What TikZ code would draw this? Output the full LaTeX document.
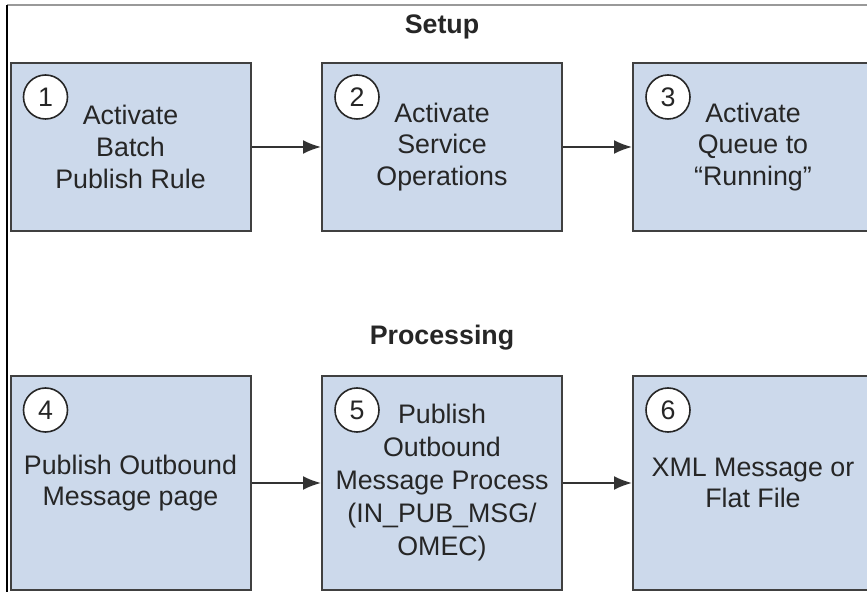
\documentclass[tikz,border=0pt]{standalone}
\usepackage{fontspec}
\setmainfont{Liberation Sans}
\usetikzlibrary{arrows.meta,calc}
\definecolor{boxfill}{HTML}{CCD9EB}
\definecolor{boxline}{HTML}{404040}
\definecolor{arrowline}{HTML}{333333}
\begin{document}
\begin{tikzpicture}
[x=0.5pt,y=-0.5pt,
 every node/.style={font=\fontsize{13.4}{15.8}\selectfont, text=black!85},
 stagebox/.style={rectangle, draw=boxline, line width=1pt, fill=boxfill, minimum width=120pt, align=center, inner sep=0pt},
 numcirc/.style={circle, draw=black!85, line width=0.8pt, fill=white, minimum size=22pt, inner sep=0pt},
 flow/.style={draw=arrowline, line width=1pt, -{Latex[length=9pt,width=7pt]}},
 heading/.style={font=\bfseries\fontsize{13.4}{15}\selectfont}]
\useasboundingbox (0,0) rectangle (867,592);
% frame
\draw[black!40, line width=1pt] (7,5) -- (867,5);
\draw[black, line width=1pt] (7,5) -- (7,592);
% headings
\node[heading] (setup) at (442,27) {Setup};
\node[heading] (processing) at (442,338) {Processing};
% setup row
\node[stagebox, minimum height=84pt] (b1) at (130.5,147) {Activate\\Batch\\Publish Rule};
\node[stagebox, minimum height=84pt] (b2) at (442,147) {Activate\\Service\\Operations};
\node[stagebox, minimum height=84pt] (b3) at (753,147) {Activate\\Queue to\\“Running”};
% processing row
\node[stagebox, minimum height=107pt] (b4) at (130.5,483) {Publish Outbound\\Message page};
\node[stagebox, minimum height=107pt, font=\fontsize{13.4}{16.5}\selectfont] (b5) at (442,483) {Publish\\Outbound\\Message Process\\(IN\_PUB\_MSG/\\OMEC)};
\node[stagebox, minimum height=107pt] (b6) at (753,483) {XML Message or\\Flat File};
% step numbers
\foreach \s in {1,...,6}
{
  \node[numcirc] (c\s) at ($(b\s.north west)+(36,35)$) {\s};
}
\draw[flow] (b1) -- (b2);
\draw[flow] (b2) -- (b3);
\draw[flow] (b4) -- (b5);
\draw[flow] (b5) -- (b6);
\end{tikzpicture}
\end{document}
